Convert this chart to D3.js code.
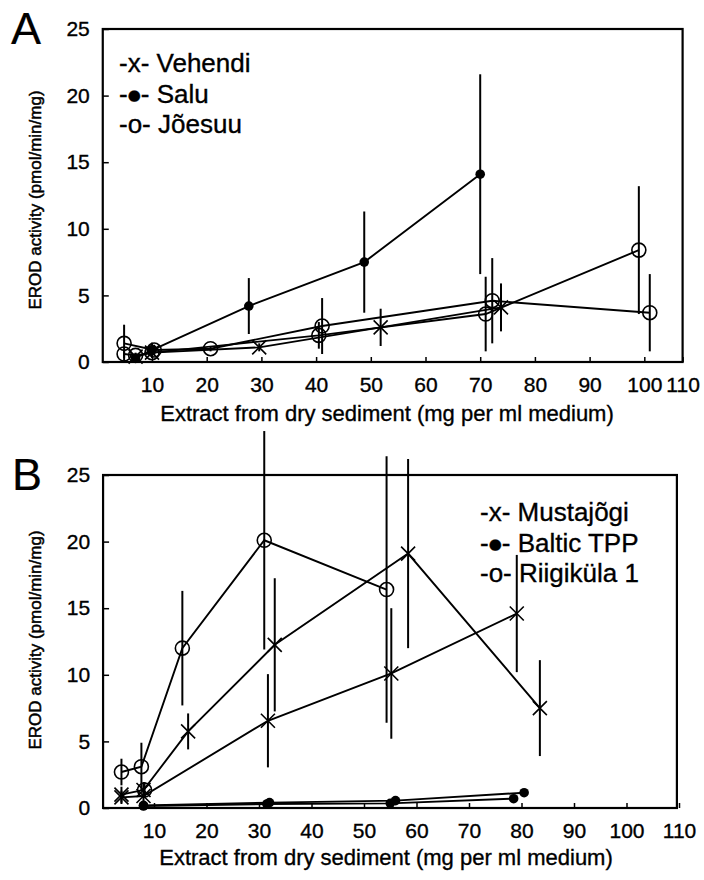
<!DOCTYPE html>
<html><head><meta charset="utf-8">
<script src="https://cdn.jsdelivr.net/npm/d3@7"></script>
<style>
body{margin:0;background:#fff}
text{font-family:"Liberation Sans",Arial,Helvetica,sans-serif;fill:#000;stroke:#000;stroke-width:0.35px}
</style>
</head><body>
<svg id="chart" width="704" height="880"></svg>
<script>
// ---------- tick labels ----------
const xTicks = [10,20,30,40,50,60,70,80,90,100,110];
const yTicks = [0,5,10,15,20,25];

// ---------- Panel A ----------
const vehendiX   = [7, 10, 29.6, 51.8, 73.8];
const vehendiY   = [0.4, 0.7, 1.1, 2.6, 4.1];
const vehendiErr = [0.2, 0.4, 0.3, 1.4, 1.8];

const saluX   = [7, 10, 27.7, 48.8, 70];
const saluY   = [0.3, 0.9, 4.2, 7.5, 14.1];
const saluErr = [0.2, 0.55, 2.1, 3.8, 7.5];

const joesuu1X   = [4.9, 10.4, 20.7, 41.1, 72.2, 101];
const joesuu1Y   = [1.4, 0.9, 1.0, 2.7, 4.6, 3.7];
const joesuu1Err = [1.4, 0.4, 0.2, 2.1, 3.2, 2.9];

const joesuu2X   = [4.9, 7, 10, 40.5, 71, 99];
const joesuu2Y   = [0.6, 0.5, 0.7, 2.0, 3.6, 8.4];
const joesuu2Err = [0.3, 0.2, 0.3, 1.0, 2.8, 4.8];

// ---------- Panel B ----------
const musta1X   = [3.8, 8, 16.5, 33, 58.4, 83.5];
const musta1Y   = [1.0, 1.35, 5.75, 12.25, 19.1, 7.5];
const musta1Err = [0.6, 0.6, 1.35, 5.0, 7.1, 3.6];

const musta2X   = [3.8, 8, 31.7, 55.2, 79.1];
const musta2Y   = [0.8, 0.9, 6.55, 10.1, 14.6];
const musta2Err = [0.5, 0.4, 3.5, 4.9, 4.4];

const baltic1X   = [8, 32, 56, 80.5];
const baltic1Y   = [0.2, 0.4, 0.55, 1.15];
const baltic1Err = [0.1, 0.1, 0.1, 0.2];

const baltic2X   = [8, 31.5, 55, 78.5];
const baltic2Y   = [0.15, 0.3, 0.35, 0.7];
const baltic2Err = [0.1, 0.1, 0.1, 0.1];

const riigi1X   = [3.8, 7.6, 15.4, 31, 54.3];
const riigi1Y   = [2.7, 3.1, 12.0, 20.1, 16.4];
const riigi1Err = [1.0, 1.8, 4.3, 8.2, 10.0];

const riigi2X   = [8.2];
const riigi2Y   = [1.35];
const riigi2Err = [0.6];

const legendA = [["-x- ","","Vehendi"], ["-","\u25CF","- Salu"], ["-o- ","","J\u00f5esuu"]];
const legendB = [["-x- ","","Mustaj\u00f5gi"], ["-","\u25CF","- Baltic TPP"], ["-o- ","","Riigik\u00fcla 1"]];

const xTitle = "Extract from dry sediment (mg per ml medium)";
const yTitle = "EROD activity (pmol/min/mg)";

function mk(xs, ys, es, marker){
  return {marker, pts: xs.map((x,i)=>({x, y: ys[i], e: es[i]}))};
}

const seriesA = [
  mk(vehendiX, vehendiY, vehendiErr, "x"),
  mk(saluX, saluY, saluErr, "dot"),
  mk(joesuu1X, joesuu1Y, joesuu1Err, "o"),
  mk(joesuu2X, joesuu2Y, joesuu2Err, "o")
];
const seriesB = [
  mk(musta1X, musta1Y, musta1Err, "x"),
  mk(musta2X, musta2Y, musta2Err, "x"),
  mk(baltic1X, baltic1Y, baltic1Err, "dot"),
  mk(baltic2X, baltic2Y, baltic2Err, "dot"),
  mk(riigi1X, riigi1Y, riigi1Err, "o"),
  mk(riigi2X, riigi2Y, riigi2Err, "o")
];

const svg = d3.select("#chart");

function panel(cfg){
  const g = svg.append("g");
  const x = d3.scaleLinear().domain(cfg.xDom).range(cfg.xRange).clamp(true);
  const y = d3.scaleLinear().domain([0,25]).range(cfg.yRange);
  const fx0 = x(cfg.frame[0]), fx1 = x(cfg.frame[1]);

  // axes
  const xa = g.append("g").attr("transform",`translate(0,${y(0)})`)
    .call(d3.axisBottom(x).tickValues(xTicks).tickSizeInner(-5).tickSizeOuter(0).tickPadding(15));
  const ya = g.append("g").attr("transform",`translate(${fx0},0)`)
    .call(d3.axisLeft(y).tickValues(yTicks).tickSizeInner(-6).tickSizeOuter(0).tickPadding(13));
  [xa, ya].forEach(a=>{
    a.select(".domain").remove();
    a.selectAll(".tick line").attr("stroke","#000").attr("stroke-width",1.5);
    a.selectAll(".tick text").attr("font-size",21).attr("fill","#000")
      .style("font-family",'"Liberation Sans",Arial,sans-serif');
  });

  // frame
  g.append("rect")
    .attr("x", fx0).attr("y", y(25))
    .attr("width", fx1 - fx0)
    .attr("height", y(0) - y(25))
    .attr("fill","none").attr("stroke","#000").attr("stroke-width",2.2);

  const line = d3.line().x(d=>x(d.x)).y(d=>y(d.y));

  cfg.series.forEach(s=>{
    g.append("path").datum(s.pts).attr("d", line)
      .attr("fill","none").attr("stroke","#000").attr("stroke-width",1.9);
    g.selectAll(null).data(s.pts).enter().append("line")
      .attr("x1", d=>x(d.x)).attr("x2", d=>x(d.x))
      .attr("y1", d=>y(d.y - d.e)).attr("y2", d=>y(d.y + d.e))
      .attr("stroke","#000").attr("stroke-width",2);
    const m = g.selectAll(null).data(s.pts).enter().append("g")
      .attr("transform", d=>`translate(${x(d.x)},${y(d.y)})`);
    if (s.marker === "x"){
      m.append("path").attr("d","M-7,-7L7,7M-7,7L7,-7")
        .attr("stroke","#000").attr("stroke-width",1.6).attr("fill","none");
    } else if (s.marker === "o"){
      m.append("circle").attr("r",7).attr("fill","none")
        .attr("stroke","#000").attr("stroke-width",1.6);
    } else {
      m.append("circle").attr("r",4.8).attr("fill","#000");
    }
  });

  // panel letter
  g.append("text").attr("x", cfg.letterPos[0]).attr("y", cfg.letterPos[1])
    .attr("font-size", 45).style("stroke-width","0.2px").text(cfg.letter);

  // legend
  cfg.legend.forEach((t,i)=>{
    const tx = g.append("text").attr("x", cfg.legendPos[0]).attr("y", cfg.legendPos[1] + i*30.5)
      .attr("dy","0.35em").attr("font-size",26);
    tx.append("tspan").text(t[0]);
    if (t[1]) tx.append("tspan").attr("font-size",15).attr("dy",-3)
      .style("font-family",'"DejaVu Sans",sans-serif').text(t[1]);
    tx.append("tspan").attr("dy", t[1] ? 3 : null).text(t[2]);
  });

  // titles
  g.append("text").attr("x", cfg.xTitlePos[0]).attr("y", cfg.xTitlePos[1])
    .attr("dy","0.35em").attr("text-anchor","middle").attr("font-size",22).text(xTitle);
  g.append("text")
    .attr("transform",`translate(${cfg.yTitlePos[0]},${cfg.yTitlePos[1]}) rotate(-90)`)
    .attr("dy","0.35em").attr("text-anchor","middle").attr("font-size",17)
    .style("stroke-width","0.5px").text(yTitle);
}

panel({
  xDom:[0,107], xRange:[97.3,682.6], frame:[1,107], yRange:[362,29], series: seriesA,
  letter:"A", letterPos:[11,44], legend: legendA, legendPos:[119,63],
  xTitlePos:[387,413], yTitlePos:[35,200]
});
panel({
  xDom:[0,110], xRange:[101.5,679], frame:[0.3,109.6], yRange:[808,475], series: seriesB,
  letter:"B", letterPos:[12,490], legend: legendB, legendPos:[480,512],
  xTitlePos:[386,857], yTitlePos:[35,640]
});
</script>
</body></html>
